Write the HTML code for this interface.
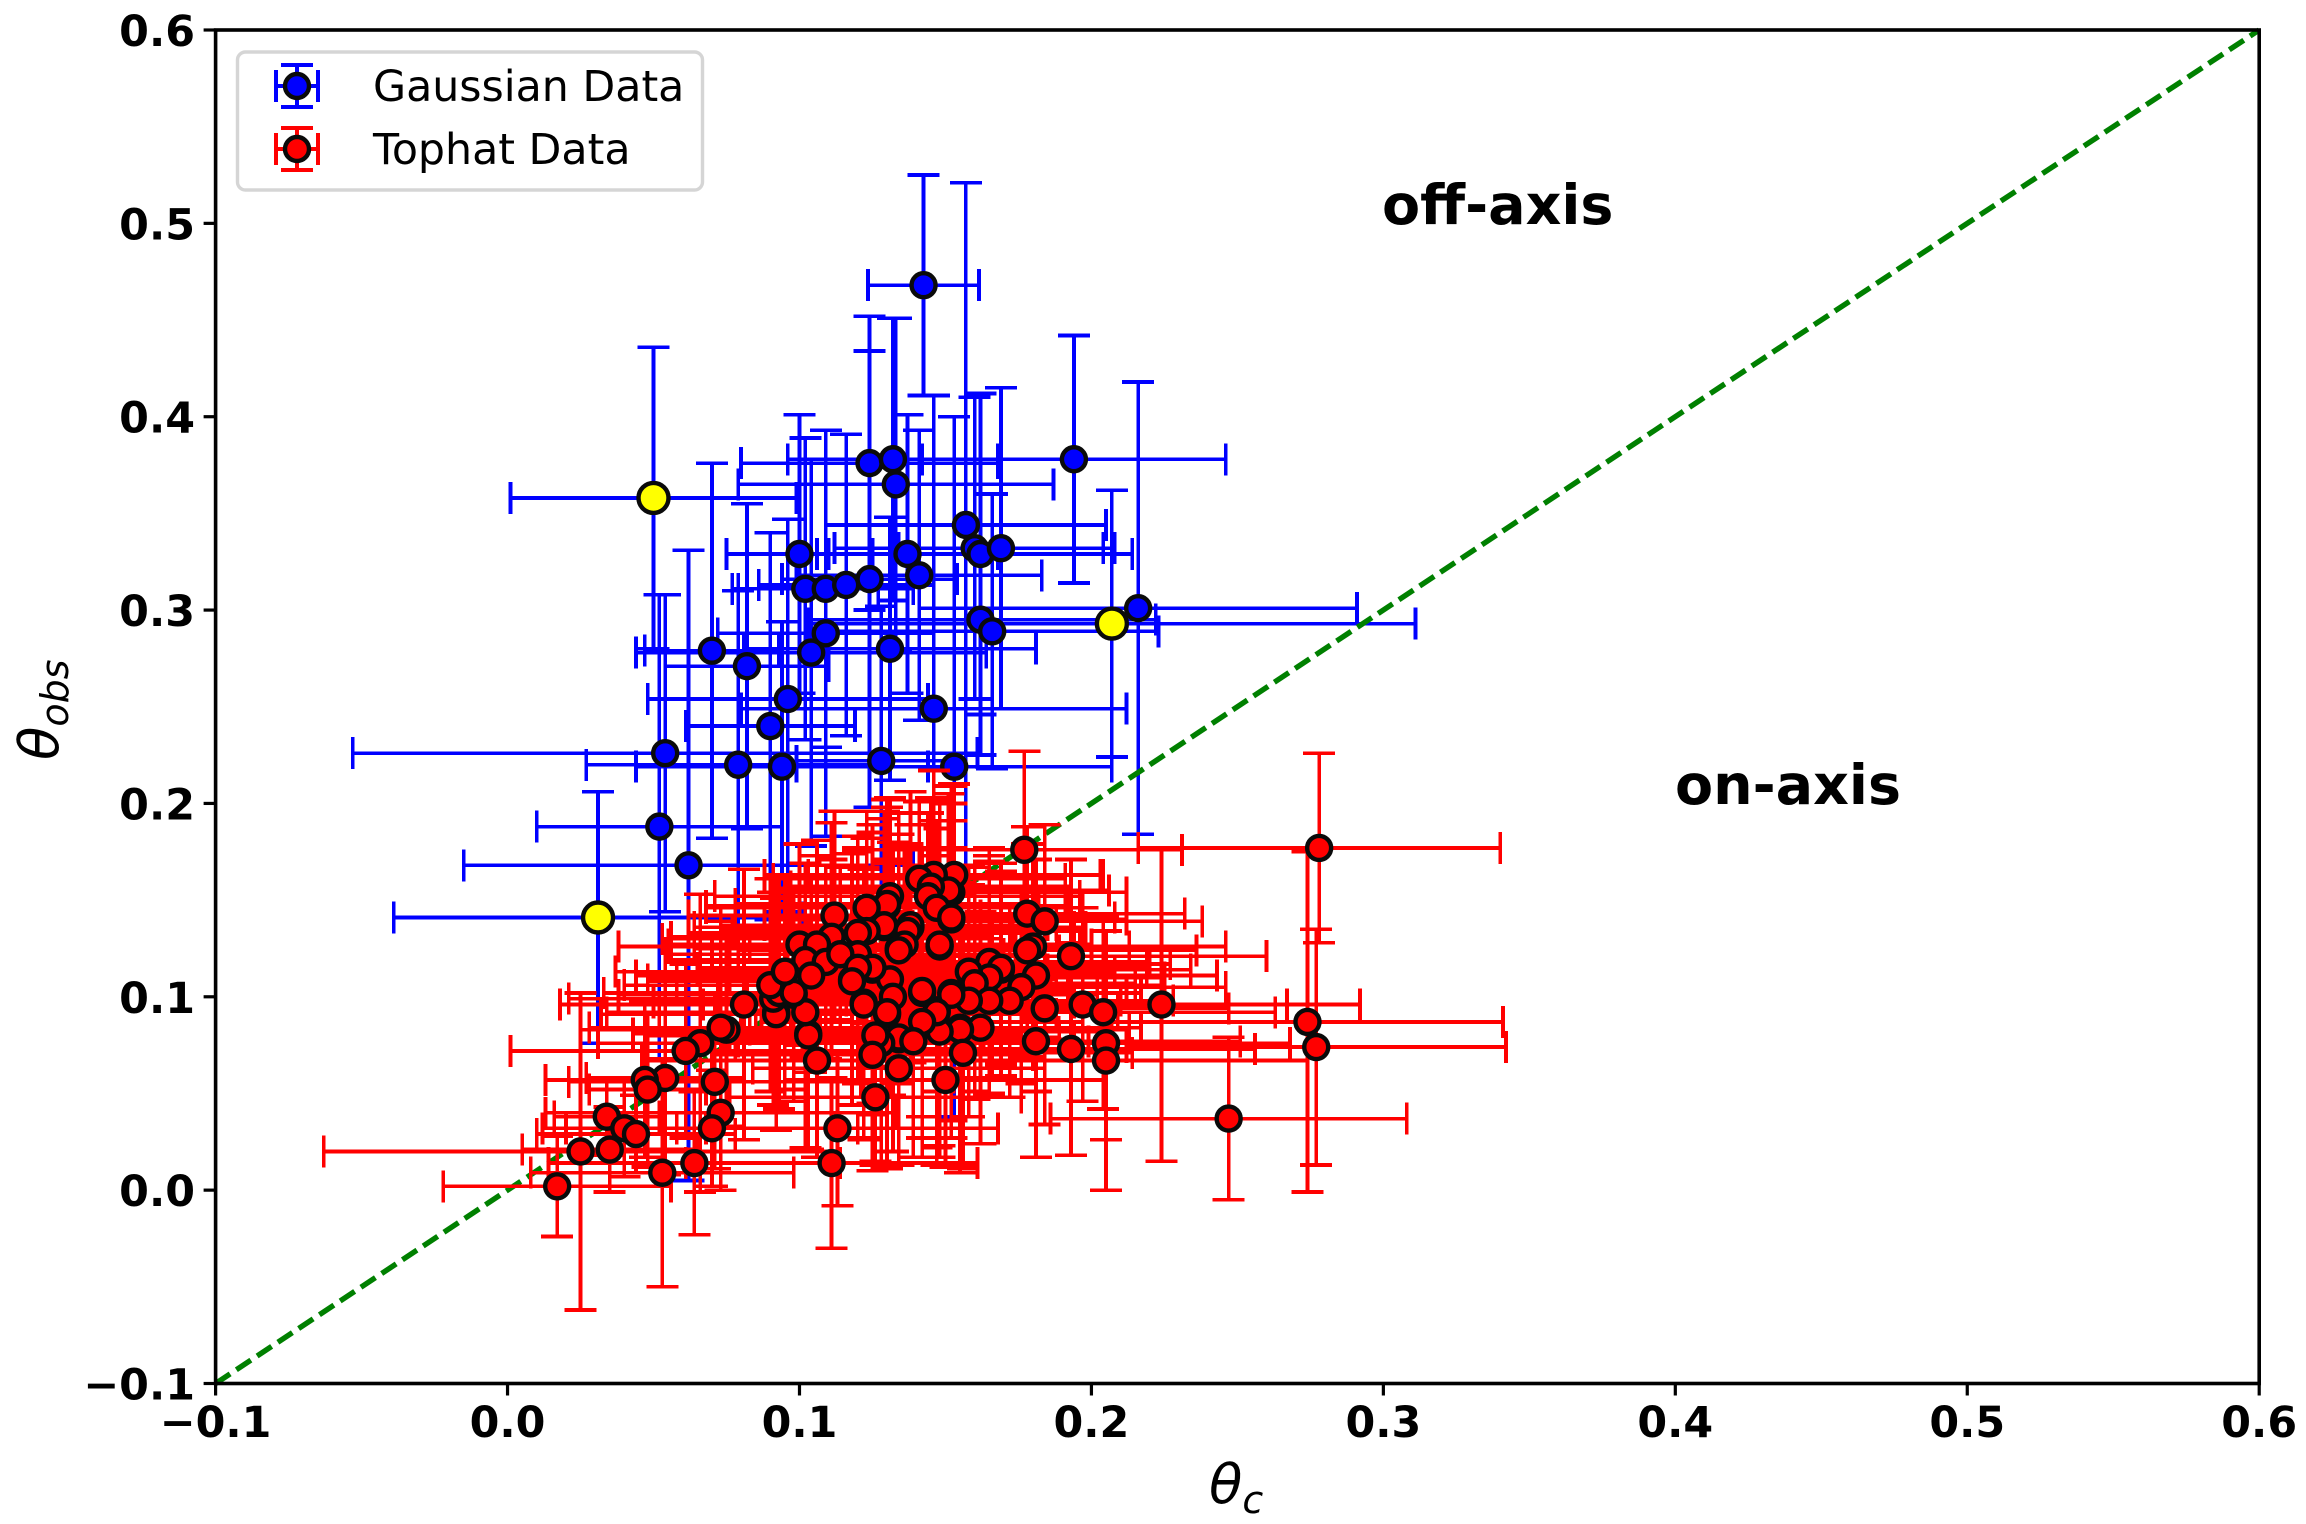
<!DOCTYPE html>
<html lang="en">
<head>
<meta charset="utf-8">
<title>Theta obs vs theta c</title>
<style>
html,body{margin:0;padding:0;background:#fff;width:2306px;height:1524px;overflow:hidden}
svg{display:block}
text{font-family:"DejaVu Sans","Liberation Sans",sans-serif;fill:#000}
.tick{font-weight:700;font-size:42.8px}
.note{font-weight:700;font-size:55.5px}
.legend-text{font-size:42.7px}
.title{font-size:54.5px;font-style:italic}
</style>
</head>
<body>
<svg id="chart" xmlns="http://www.w3.org/2000/svg" width="2306" height="1524" viewBox="0 0 2306 1524">
  <rect x="0" y="0" width="2306" height="1524" fill="#fff"/>
  <g id="marks"></g>
  <g id="axes"></g>
  <text class="note" x="1382" y="224">off-axis</text>
  <text class="note" x="1675" y="804">on-axis</text>
  <text class="title" x="1209" y="1503">θ<tspan font-size="38" dy="10">c</tspan></text>
  <text class="title" transform="translate(58,760) rotate(-90)">θ<tspan font-size="38" dy="10">obs</tspan></text>
  <g>
    <rect x="237.5" y="52" width="465" height="138" rx="8" fill="#fff" stroke="#d5d5d5" stroke-width="3.4"/>
    <g id="legend-handles"></g>
    <text class="legend-text" x="373" y="101">Gaussian Data</text>
    <text class="legend-text" x="373" y="164">Tophat Data</text>
  </g>
</svg>
<script>
const xTickValues = [-0.1, 0, 0.1, 0.2, 0.3, 0.4, 0.5, 0.6];
const yTickValues = [-0.1, 0, 0.1, 0.2, 0.3, 0.4, 0.5, 0.6];
const tickLabels = ['\u22120.1', '0.0', '0.1', '0.2', '0.3', '0.4', '0.5', '0.6'];
const diagonalEnds = [-0.1, 0.6];

const gaussianX = [.1425,.194,.124,.132,.133,.157,.16,.162,.169,.1,.137,.124,.141,.102,.109,.116,.216,.162,.166,.109,.131,.07,.104,.082,.096,.146,.09,.054,.128,.079,.094,.153,.052,.062];
const gaussianY = [.468,.378,.376,.378,.365,.344,.332,.329,.332,.329,.329,.316,.318,.311,.311,.313,.301,.295,.289,.288,.28,.279,.278,.271,.254,.249,.24,.226,.222,.22,.219,.219,.188,.168];
const gaussianXErr = [.019,.052,.044,.036,.054,.048,.048,.052,.035,.025,.031,.03,.042,.025,.03,.03,.075,.06,.057,.037,.05,.023,.06,.028,.048,.066,.029,.107,.029,.052,.05,.054,.042,.077];
const gaussianYErr = [.057,.064,.076,.073,.086,.177,.078,.083,.083,.072,.072,.118,.075,.078,.082,.078,.117,.07,.071,.105,.068,.097,.1,.084,.093,.162,.1,.082,.08,.09,.075,.181,.12,.163];

const highlightX = [.05,.207,.031];
const highlightY = [.358,.293,.141];
const highlightXErr = [.049,.104,.07];
const highlightYErr = [.078,.069,.065];

const tophatX = [.129,.134,.118,.148,.152,.106,.142,.16,.122,.134,.148,.103,.169,.098,.092,.13,.125,.152,.147,.111,.138,.165,.155,.13,.152,.177,.153,.146,.141,.151,.145,.144,.147,.152,.131,.13,.123,.112,.111,.138,.137,.129,.123,.12,.148,.136,.134,.1,.106,.102,.109,.12,.114,.178,.184,.18,.178,.193,.181,.176,.172,.165,.169,.165,.158,.16,.165,.158,.152,.162,.155,.148,.147,.156,.142,.142,.131,.125,.12,.118,.132,.122,.13,.134,.128,.139,.126,.125,.134,.15,.126,.106,.103,.102,.092,.091,.093,.098,.09,.095,.104,.081,.075,.073,.066,.061,.054,.047,.048,.071,.073,.07,.034,.04,.044,.035,.025,.017,.053,.064,.113,.111,.224,.184,.197,.204,.181,.193,.205,.205,.247,.274,.277,.278];
const tophatY = [.136,.125,.109,.126,.14,.126,.102,.106,.097,.078,.083,.081,.114,.101,.092,.147,.114,.102,.093,.13,.136,.117,.084,.091,.154,.176,.163,.163,.161,.155,.157,.152,.146,.141,.152,.148,.146,.142,.131,.137,.134,.137,.134,.133,.127,.127,.124,.127,.127,.119,.118,.122,.122,.143,.139,.126,.124,.121,.111,.105,.098,.118,.115,.11,.113,.107,.098,.098,.101,.084,.083,.082,.092,.071,.087,.103,.109,.115,.115,.108,.1,.096,.092,.079,.076,.077,.08,.07,.063,.057,.048,.067,.08,.092,.091,.099,.102,.102,.106,.113,.111,.096,.083,.084,.076,.072,.058,.057,.052,.056,.04,.032,.038,.032,.029,.021,.02,.002,.009,.014,.032,.014,.096,.094,.096,.092,.077,.073,.076,.067,.037,.087,.074,.177];
const tophatXErr = [.065,.07,.07,.065,.06,.068,.07,.065,.072,.06,.065,.06,.065,.06,.058,.062,.06,.065,.062,.058,.06,.062,.062,.058,.06,.054,.05,.058,.05,.055,.048,.052,.05,.056,.06,.052,.055,.05,.055,.05,.06,.056,.05,.058,.052,.06,.055,.045,.05,.048,.055,.05,.06,.054,.054,.066,.058,.067,.062,.07,.056,.055,.05,.06,.05,.055,.06,.052,.05,.055,.05,.058,.05,.058,.055,.05,.055,.05,.055,.06,.05,.055,.05,.055,.05,.06,.05,.055,.05,.055,.05,.06,.055,.05,.06,.07,.06,.065,.05,.058,.06,.063,.05,.045,.035,.06,.027,.034,.02,.05,.06,.05,.018,.028,.034,.03,.088,.039,.045,.05,.055,.05,.068,.063,.07,.059,.07,.063,.063,.069,.061,.067,.065,.062];
const tophatYErr = [.06,.07,.065,.075,.06,.055,.075,.055,.07,.065,.06,.06,.055,.055,.06,.055,.075,.075,.08,.06,.07,.06,.075,.08,.055,.051,.047,.054,.04,.05,.046,.043,.045,.05,.051,.05,.05,.054,.04,.052,.045,.055,.048,.05,.06,.05,.06,.052,.046,.05,.05,.055,.045,.045,.05,.05,.055,.05,.06,.05,.05,.055,.05,.06,.055,.06,.05,.06,.065,.06,.07,.065,.07,.06,.07,.065,.06,.07,.06,.06,.08,.07,.078,.065,.062,.06,.065,.06,.05,.045,.035,.05,.06,.07,.06,.055,.06,.05,.055,.05,.05,.07,.05,.055,.077,.045,.05,.04,.04,.045,.04,.03,.02,.025,.02,.022,.082,.026,.059,.037,.04,.044,.081,.06,.05,.05,.06,.055,.05,.067,.042,.088,.061,.049];

const PLOT_LEFT = 215.6, PLOT_RIGHT = 2259.2, PLOT_TOP = 30, PLOT_BOTTOM = 1383.5;
const NS = 'http://www.w3.org/2000/svg';
function xScale(v){ return PLOT_LEFT + (v + 0.1) / 0.7 * (PLOT_RIGHT - PLOT_LEFT); }
function yScale(v){ return PLOT_BOTTOM - (v + 0.1) / 0.7 * (PLOT_BOTTOM - PLOT_TOP); }
function svgEl(parent, tag, props){
  const el = document.createElementNS(NS, tag);
  for (const k in props) el.setAttribute(k, props[k]);
  parent.appendChild(el);
  return el;
}
const CAP = 16, BAR_W = 3.7;
const marks = document.getElementById('marks');
const axes = document.getElementById('axes');
const legendHandles = document.getElementById('legend-handles');

function drawSegment(parent, x1, y1, x2, y2, color){
  const s = svgEl(parent, 'line', {x1: x1, y1: y1, x2: x2, y2: y2, stroke: color, 'stroke-width': BAR_W, 'shape-rendering': 'crispEdges'});
  return s;
}
function drawBars(parent, xs, ys, xe, ye, color, label){
  xs.forEach(function(x, i){
    const g = svgEl(parent, 'g', {});
    
    
    const cx = xScale(x), cy = yScale(ys[i]);
    const l = xScale(x - xe[i]), r = xScale(x + xe[i]);
    const t = yScale(ys[i] + ye[i]), b = yScale(ys[i] - ye[i]);
    drawSegment(g, l, cy, r, cy, color);
    drawSegment(g, cx, t, cx, b, color);
    drawSegment(g, l, cy - CAP, l, cy + CAP, color);
    drawSegment(g, r, cy - CAP, r, cy + CAP, color);
    drawSegment(g, cx - CAP, t, cx + CAP, t, color);
    drawSegment(g, cx - CAP, b, cx + CAP, b, color);
  });
}
function drawPoints(parent, xs, ys, color, radius, label){
  xs.forEach(function(x, i){
    const c = svgEl(parent, 'circle', {cx: xScale(x), cy: yScale(ys[i]), r: radius, fill: color, stroke: '#0a0a0a', 'stroke-width': 4.4});
    
    
  });
}

drawBars(marks, gaussianX, gaussianY, gaussianXErr, gaussianYErr, '#0000ff', 'gaussian');
drawBars(marks, highlightX, highlightY, highlightXErr, highlightYErr, '#0000ff', 'highlight');
drawPoints(marks, gaussianX, gaussianY, '#0000ff', 12, 'gaussian');
drawPoints(marks, highlightX, highlightY, '#ffff00', 15, 'highlight');

const diagonal = svgEl(marks, 'line', {x1: xScale(diagonalEnds[0]), y1: yScale(diagonalEnds[0]), x2: xScale(diagonalEnds[1]), y2: yScale(diagonalEnds[1]), stroke: '#008000', 'stroke-width': 5.4, 'stroke-dasharray': '17.4 7.5'});



drawBars(marks, tophatX, tophatY, tophatXErr, tophatYErr, '#ff0000', 'tophat');
drawPoints(marks, tophatX, tophatY, '#ff0000', 12, 'tophat');

const frame = svgEl(axes, 'rect', {x: PLOT_LEFT, y: PLOT_TOP, width: PLOT_RIGHT - PLOT_LEFT, height: PLOT_BOTTOM - PLOT_TOP, fill: 'none', stroke: '#000', 'stroke-width': 3.6});



xTickValues.forEach(function(v, i){
  const p = xScale(v);
  const t = svgEl(axes, 'line', {x1: p, x2: p, y1: PLOT_BOTTOM, y2: PLOT_BOTTOM + 12, stroke: '#000', 'stroke-width': 3.2});
  
  
  const lab = svgEl(axes, 'text', {x: p, y: 1437, 'text-anchor': 'middle', class: 'tick'});
  
  
  lab.textContent = tickLabels[i];
});
yTickValues.forEach(function(v, i){
  const p = yScale(v);
  const t = svgEl(axes, 'line', {x1: PLOT_LEFT - 12, x2: PLOT_LEFT, y1: p, y2: p, stroke: '#000', 'stroke-width': 3.2});
  
  
  const lab = svgEl(axes, 'text', {x: 195, y: p + 16, 'text-anchor': 'end', class: 'tick'});
  
  
  lab.textContent = tickLabels[i];
});

function legendHandle(cy, color){
  const cx = 297;
  const g = svgEl(legendHandles, 'g', {});
  
  
  drawSegment(g, cx - 21, cy, cx + 21, cy, color);
  drawSegment(g, cx, cy - 21, cx, cy + 21, color);
  drawSegment(g, cx - 21, cy - 16, cx - 21, cy + 16, color);
  drawSegment(g, cx + 21, cy - 16, cx + 21, cy + 16, color);
  drawSegment(g, cx - 16, cy - 21, cx + 16, cy - 21, color);
  drawSegment(g, cx - 16, cy + 21, cx + 16, cy + 21, color);
  svgEl(g, 'circle', {cx: cx, cy: cy, r: 12, fill: color, stroke: '#0a0a0a', 'stroke-width': 4.4});
}
legendHandle(86, '#0000ff');
legendHandle(149, '#ff0000');
</script>
</body>
</html>
